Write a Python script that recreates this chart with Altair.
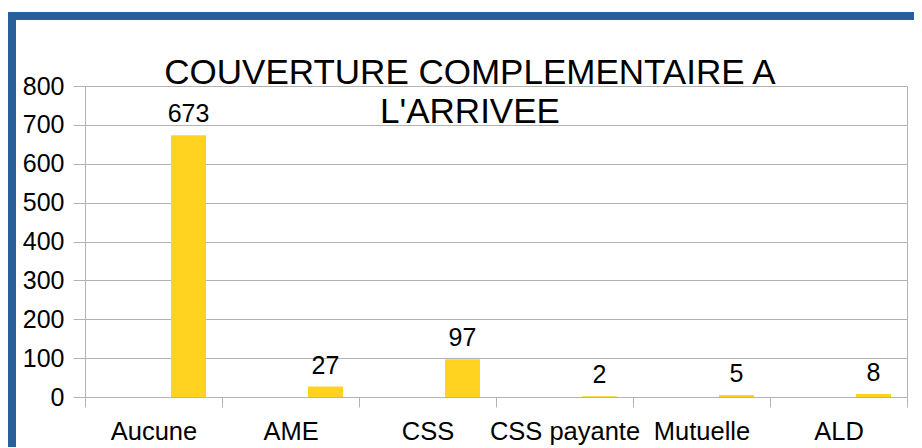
import altair as alt
import pandas as pd

# ---- data ----
categories = ["Aucune", "AME", "CSS", "CSS payante", "Mutuelle", "ALD"]
values = [673, 27, 97, 2, 5, 8]
series_names = ["S1", "S2", "S3"]  # LibreOffice-style 3rd series (first two empty)
title_lines = ["COUVERTURE COMPLEMENTAIRE A", "L'ARRIVEE"]
y_ticks = [0, 100, 200, 300, 400, 500, 600, 700, 800]

df = pd.DataFrame({"cat": categories, "val": values, "serie": ["S3"] * len(categories)})

FONT = "Liberation Sans"
GRID = "#b3b3b3"
BLUE = "#2a6099"
YELLOW = "#ffd320"
W, H = 822, 311
PAD = {"left": 77, "top": 78, "right": 7, "bottom": 50}

base = alt.Chart(df).encode(
    x=alt.X(
        "cat:N",
        sort=categories,
        scale=alt.Scale(paddingInner=0, paddingOuter=0),
        axis=alt.Axis(
            title=None, labelAngle=0, labelFontSize=25.5, labelFont=FONT,
            labelColor="black", labelPadding=32, labelBaseline="alphabetic",
            tickBand="extent", tickSize=10, tickColor=GRID, domainColor=GRID,
            grid=False, labelLimit=0, labelOverlap=False,
        ),
    ),
    xOffset=alt.XOffset(
        "serie:N",
        scale=alt.Scale(domain=series_names, paddingInner=0, paddingOuter=0.457),
    ),
    y=alt.Y(
        "val:Q",
        scale=alt.Scale(domain=[0, 800], nice=False),
        axis=alt.Axis(
            title=None, values=y_ticks, tickSize=12, labelPadding=9,
            labelFontSize=25, labelFont=FONT, labelColor="black",
            gridColor=GRID, tickColor=GRID, domainColor=GRID,
        ),
    ),
)

bars = base.mark_bar(color=YELLOW)
labels = base.mark_text(
    dy=-13, baseline="alphabetic", fontSize=25, font=FONT, color="black"
).encode(text="val:Q")

one = pd.DataFrame({"a": [0]})
left_border = alt.Chart(one).mark_rule(color=BLUE, strokeWidth=8).encode(
    x=alt.value(-73), y=alt.value(-74), y2=alt.value(H + PAD["bottom"])
)
top_border = alt.Chart(one).mark_rule(color=BLUE, strokeWidth=8).encode(
    y=alt.value(-70), x=alt.value(-77), x2=alt.value(W + PAD["right"])
)
title = alt.Chart(one).mark_text(
    text="\n".join(title_lines), lineBreak="\n", lineHeight=39,
    fontSize=35, font=FONT, color="black", align="center", baseline="alphabetic",
).encode(x=alt.value(385), y=alt.value(-2))

chart = alt.layer(left_border, top_border, bars, labels, title).properties(
    width=W, height=H, padding=PAD,
    autosize=alt.AutoSizeParams(type="none"),
).configure_view(stroke=GRID)

chart.save("out.html", embed_options={"renderer": "svg", "actions": False})
